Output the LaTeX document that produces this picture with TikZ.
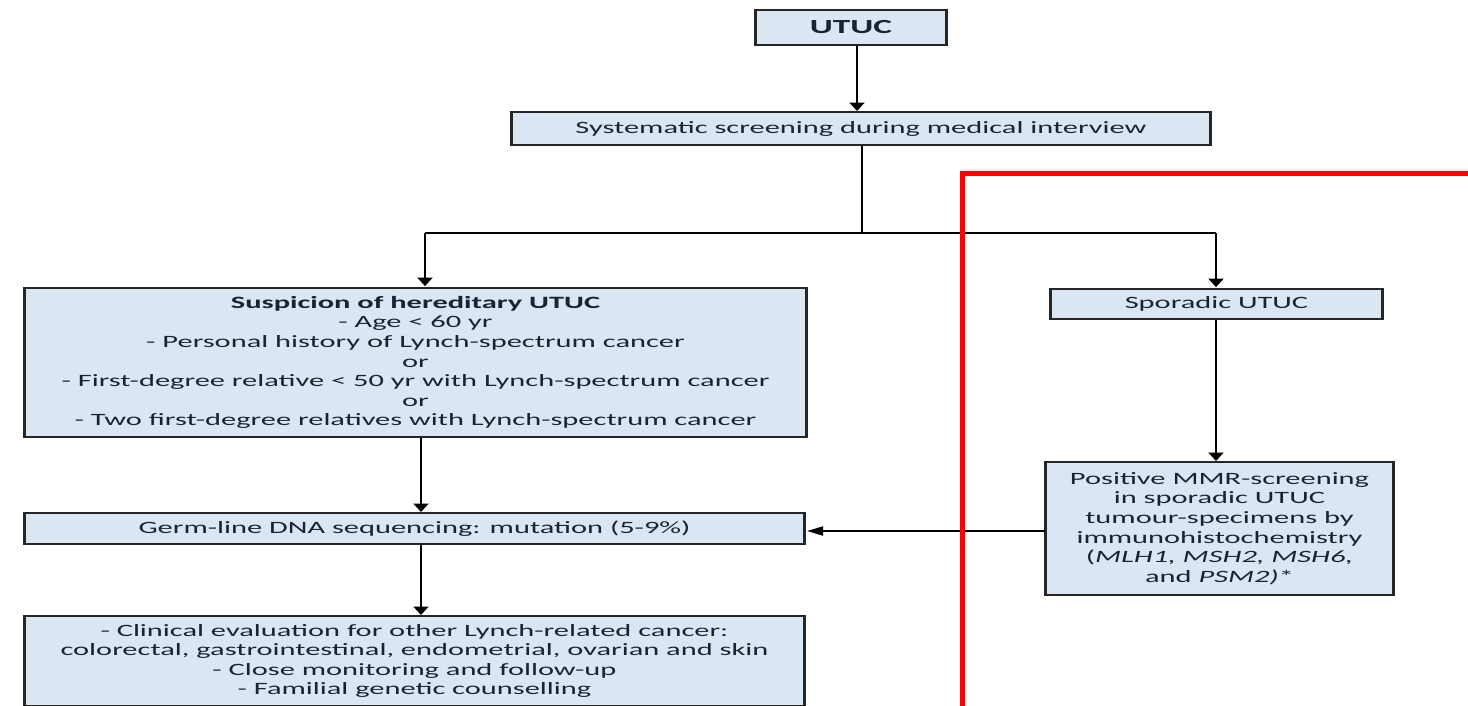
\documentclass[tikz,border=0pt]{standalone}
\usepackage{fontspec}
\setmainfont{Carlito}[FakeStretch=1.76]
\usetikzlibrary{arrows.meta}
\definecolor{boxfill}{HTML}{DAE7F2}
\definecolor{boxline}{HTML}{262626}
\definecolor{txt}{HTML}{1C2236}
\definecolor{alert}{HTML}{FF0000}

\begin{document}
\begin{tikzpicture}[x=1pt,y=-1pt,
  box/.style={draw=boxline, line width=1.8pt, fill=boxfill, inner sep=0pt,
    align=center, text=txt, font=\fontsize{17.3}{19.6}\selectfont},
  boxside/.style={draw=boxline, line width=2.8pt},
  down/.style={line width=2.6pt, draw=black, -{Triangle[width=15pt,length=8.5pt]}},
  across/.style={line width=1.8pt, draw=black, -{Triangle[width=9pt,length=16pt]}},
  vwire/.style={line width=2.6pt, draw=black},
  hwire/.style={line width=1.8pt, draw=black}]
\clip (0,0) rectangle (1468,705);
\fill[white] (0,0) rectangle (1468,705);

% boxes
\node[box, minimum width=190, minimum height=35,
  font=\fontsize{20}{22}\selectfont\bfseries] (utuc) at (851,27.5) {UTUC};
\node[box, minimum width=698, minimum height=33] (sys) at (861,128.5)
  {Systematic screening during medical interview};
\node[box, minimum width=781, minimum height=149] (hered) at (415.5,362.5)
  {\textbf{Suspicion of hereditary UTUC}\\
   - Age < 60 yr\\
   - Personal history of Lynch-spectrum cancer\\
   or\\
   - First-degree relative < 50 yr with Lynch-spectrum cancer\\
   or\\
   - Two first-degree relatives with Lynch-spectrum cancer};
\node[box, minimum width=331, minimum height=30] (spor) at (1216.5,304)
  {Sporadic UTUC};
\node[box, minimum width=347, minimum height=133] (mmr) at (1219.5,528.5)
  {Positive MMR-screening\\
   in sporadic UTUC\\
   tumour-specimens by\\
   immunohistochemistry\\
   (\textit{MLH1, MSH2, MSH6,}\\
   and \textit{PSM2)}*};
\node[box, minimum width=779, minimum height=31] (germ) at (414.5,528.5)
  {Germ-line DNA sequencing: mutation (5-9\%)};
\node[box, minimum width=779, minimum height=90] (eval) at (414.5,661)
  {- Clinical evaluation for other Lynch-related cancer:\\
   colorectal, gastrointestinal, endometrial, ovarian and skin\\
   - Close monitoring and follow-up\\
   - Familial genetic counselling};

% heavier left and right sides of every box
\foreach \b in {utuc,sys,hered,spor,mmr,germ,eval}
  \draw[boxside] (\b.north west) -- (\b.south west)
                 (\b.north east) -- (\b.south east);

% connectors
\coordinate (split) at (862,233);
\coordinate (tl) at (425,233);
\coordinate (tr) at (1216,233);
\draw[down] (utuc.south -| 857,0) -- (857,111);
\draw[vwire] (sys.south -| split) -- (split);
\draw[hwire] (tl) -- (tr);
\draw[down] (tl) -- ([yshift=1pt]tl |- hered.north);
\draw[down] (tr) -- ([yshift=1pt]tr |- spor.north);
\draw[down] (spor.south -| 1216,0) -- (1216,461);
\draw[down] (hered.south -| 421,0) -- (421,512);
\draw[down] (germ.south -| 421,0) -- (421,615);
\draw[across] (mmr.west |- 0,531) -- (807,531);

% red frame on top
\draw[alert, line width=5pt, line join=miter]
  (1470,173.5) -- (962,173.5) -- (962,710);
\end{tikzpicture}
\end{document}
